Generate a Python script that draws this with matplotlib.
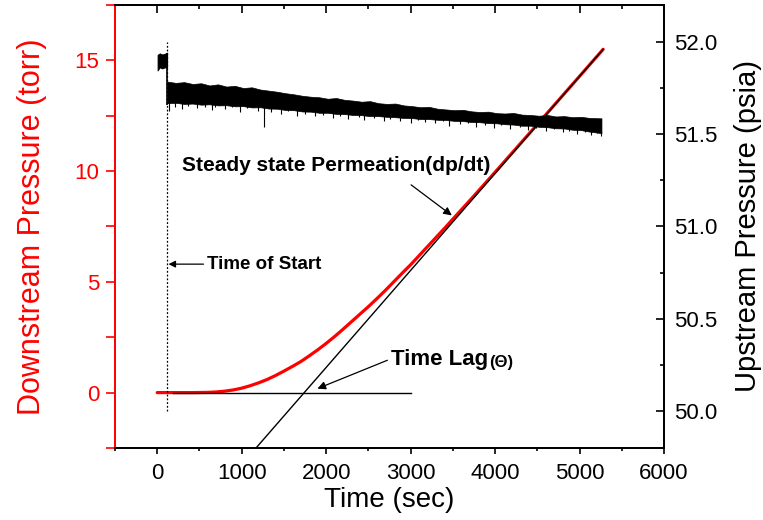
import numpy as np
import matplotlib
matplotlib.use("Agg")
import matplotlib.pyplot as plt
from matplotlib.ticker import MultipleLocator, FormatStrFormatter

plt.rcParams['font.family'] = ['Liberation Sans', 'DejaVu Sans']

# downstream pressure (torr)
t_down = [0, 100, 200, 400, 600, 700, 800, 900, 1000, 1100, 1200, 1300, 1400, 1500,
          1600, 1700, 1800, 1900, 2000, 2100, 2200, 2300, 2400, 2500, 2600, 2700,
          2800, 2900, 3000, 3100, 3200, 3300, 3400, 3500, 3750, 4000, 4500, 5000, 5280]
p_down = [0, 0, 0, 0, 0.01, 0.03, 0.065, 0.12, 0.2, 0.31, 0.44, 0.59, 0.77, 0.97,
          1.18, 1.4, 1.66, 1.93, 2.22, 2.53, 2.86, 3.2, 3.54, 3.88, 4.24, 4.61,
          5.0, 5.39, 5.77, 6.18, 6.59, 7.0, 7.41, 7.83, 8.88, 9.95, 12.11, 14.28, 15.5]

# steady state fit line and baseline
t_fit = [1170, 5280]
p_fit = [-2.5, 15.5]
t_base = [190, 3000]
p_base = [0, 0]

# upstream pressure (psia): before start
t_pre = [4, 30, 60, 90, 118]
pre_hi = [51.930, 51.938, 51.932, 51.936, 51.942]
pre_lo = [51.845, 51.862, 51.856, 51.862, 51.860]

# upstream pressure (psia): noise band after start
t_band = [120, 220, 320, 420, 520, 620, 720, 820, 920, 1020, 1120, 1220, 1320, 1420,
          1520, 1620, 1720, 1820, 1920, 2020, 2120, 2220, 2320, 2420, 2520, 2620,
          2720, 2820, 2920, 3020, 3120, 3220, 3320, 3420, 3520, 3620, 3720, 3820,
          3920, 4020, 4120, 4220, 4320, 4420, 4520, 4620, 4720, 4820, 4920, 5020,
          5120, 5260]
band_hi = [51.785, 51.778, 51.782, 51.772, 51.776, 51.764, 51.770, 51.758, 51.762,
           51.750, 51.754, 51.742, 51.736, 51.730, 51.722, 51.716, 51.708, 51.703,
           51.700, 51.692, 51.696, 51.686, 51.682, 51.676, 51.679, 51.668, 51.664,
           51.666, 51.656, 51.652, 51.646, 51.648, 51.638, 51.634, 51.630, 51.632,
           51.624, 51.620, 51.622, 51.614, 51.612, 51.615, 51.606, 51.604, 51.600,
           51.604, 51.596, 51.598, 51.592, 51.594, 51.588, 51.586]
band_lo = [51.668, 51.670, 51.664, 51.666, 51.660, 51.662, 51.656, 51.657, 51.651,
           51.652, 51.645, 51.646, 51.639, 51.638, 51.631, 51.630, 51.623, 51.622,
           51.616, 51.616, 51.610, 51.609, 51.604, 51.603, 51.598, 51.598, 51.594,
           51.592, 51.588, 51.587, 51.582, 51.582, 51.578, 51.577, 51.572, 51.571,
           51.566, 51.565, 51.560, 51.559, 51.554, 51.552, 51.546, 51.546, 51.540,
           51.538, 51.532, 51.531, 51.524, 51.522, 51.514, 51.506]

# downward spikes in the upstream trace
spike_t = [140, 205, 290, 365, 470, 560, 650, 690, 805, 890, 975, 1060, 1190, 1266,
           1350, 1460, 1545, 1660, 1750, 1870, 1960, 2080, 2170, 2260, 2390, 2450,
           2570, 2690, 2760, 2880, 3010, 3090, 3170, 3290, 3380, 3450, 3590, 3680,
           3770, 3880, 3990, 4070, 4180, 4290, 4390, 4480, 4600, 4700, 4810, 4880,
           4970, 5060, 5140, 5210, 5250]
spike_p = [51.628, 51.650, 51.638, 51.655, 51.640, 51.648, 51.630, 51.645, 51.636,
           51.646, 51.622, 51.640, 51.625, 51.540, 51.620, 51.612, 51.624, 51.600,
           51.612, 51.596, 51.606, 51.588, 51.600, 51.585, 51.594, 51.578, 51.588,
           51.570, 51.585, 51.574, 51.562, 51.578, 51.566, 51.558, 51.570, 51.545,
           51.556, 51.562, 51.540, 51.552, 51.535, 51.548, 51.530, 51.540, 51.524,
           51.535, 51.515, 51.528, 51.512, 51.520, 51.500, 51.512, 51.496, 51.505,
           51.490]

t_start = 110

fig = plt.figure(figsize=(7.63, 5.2), dpi=100)
ax = fig.add_axes([0.1507, 0.1385, 0.7195, 0.8519])
ax2 = ax.twinx()

# left axis: downstream
ax.plot(t_down, p_down, color="red", lw=2.3, solid_capstyle="round", zorder=3)
ax.plot(t_fit, p_fit, color="black", lw=1.0, zorder=4)
ax.plot(t_base, p_base, color="black", lw=1.0, zorder=4)

# right axis: upstream
ax2.fill_between(t_pre, pre_lo, pre_hi, color="black", lw=0.6)
ax2.vlines(118, 51.66, 51.94, color="black", lw=1.2)
ax2.fill_between(t_band, band_lo, band_hi, color="black", lw=0.5)
ax2.vlines(spike_t, np.interp(spike_t, t_band, band_lo) + 0.01, spike_p,
           color="black", lw=0.8)
ax2.plot([t_start, t_start], [50.0, 52.0], color="black", lw=0.9, ls=(0, (1.5, 1.5)))

ax.set_xlim(-500, 6000)
ax.set_ylim(-2.5, 17.5)
ax2.set_ylim(49.8, 52.2)

ax.xaxis.set_major_locator(MultipleLocator(1000))
ax.xaxis.set_minor_locator(MultipleLocator(500))
ax.yaxis.set_major_locator(MultipleLocator(5))
ax.yaxis.set_minor_locator(MultipleLocator(2.5))
ax2.yaxis.set_major_locator(MultipleLocator(0.5))
ax2.yaxis.set_minor_locator(MultipleLocator(0.25))
ax2.yaxis.set_major_formatter(FormatStrFormatter("%.1f"))

ax.tick_params(axis="x", which="both", direction="out", labelsize=16,
               colors="black", pad=7)
ax.tick_params(axis="x", which="major", length=4, width=1.2)
ax.tick_params(axis="x", which="minor", length=2.3, width=1.2)
ax.tick_params(axis="y", which="both", direction="out", length=6.2, width=1.2,
               colors="red", labelsize=16, pad=5)
ax2.tick_params(axis="y", which="major", direction="in", length=5.8, width=1.2,
                labelsize=16, pad=7)
ax2.tick_params(axis="y", which="minor", direction="in", length=2.9, width=1.2)

# top ticks point inward
top = ax.secondary_xaxis("top")
top.xaxis.set_major_locator(MultipleLocator(1000))
top.xaxis.set_minor_locator(MultipleLocator(500))
top.tick_params(axis="x", which="major", direction="in", length=5.8, width=1.2,
                labeltop=False)
top.tick_params(axis="x", which="minor", direction="in", length=2.9, width=1.2)
top.spines["top"].set_linewidth(1.3)

ax.spines["left"].set_color("red")
ax2.spines["left"].set_color("red")
for sp in list(ax.spines.values()) + list(ax2.spines.values()):
    sp.set_linewidth(1.3)

ax.set_xlabel("Time (sec)", fontsize=20, labelpad=2)
ax.set_ylabel("Downstream Pressure (torr)", fontsize=22, color="red", labelpad=20)
ax2.set_ylabel("Upstream Pressure (psia)", fontsize=21, labelpad=12)

# annotations
ax.text(296, 10.0, "Steady state Permeation(dp/dt)", fontsize=15,
        fontweight="bold", va="baseline")
ax.annotate("", xy=(3488, 8.0), xytext=(3006, 9.38),
            arrowprops=dict(arrowstyle="-|>", color="black", lw=0.9,
                            mutation_scale=12, shrinkA=0, shrinkB=0))
ax.text(588, 5.57, "Time of Start", fontsize=13.5, fontweight="bold", va="baseline")
ax.annotate("", xy=(134, 5.8), xytext=(548, 5.8),
            arrowprops=dict(arrowstyle="-|>", color="black", lw=0.9,
                            mutation_scale=10, shrinkA=0, shrinkB=0))
lag = ax.text(2769, 1.24, "Time Lag", fontsize=16, fontweight="bold", va="baseline")
ax.annotate("(\u0398)", xy=(1, 0), xycoords=lag, xytext=(1, 0),
            textcoords="offset points", fontsize=12, fontweight="bold",
            va="bottom")
ax.annotate("", xy=(1897, 0.18), xytext=(2725, 1.46),
            arrowprops=dict(arrowstyle="-|>", color="black", lw=0.9,
                            mutation_scale=12, shrinkA=0, shrinkB=0))

fig.savefig("out.png", dpi=100)
